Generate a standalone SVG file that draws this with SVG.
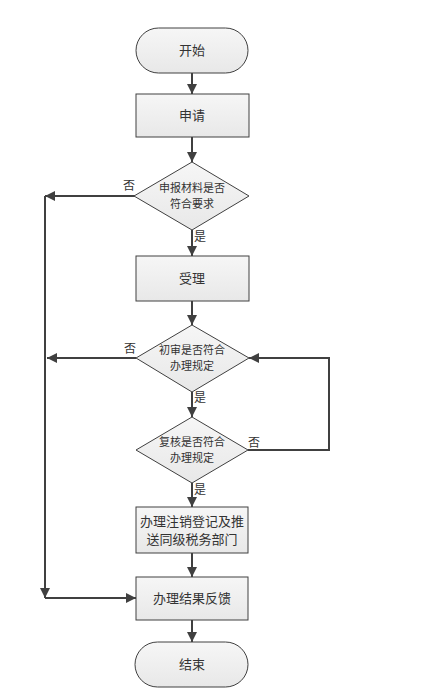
<svg xmlns="http://www.w3.org/2000/svg" width="424" height="697" viewBox="0 0 424 697">
<style>
.shape{fill:url(#g);stroke:#404040;stroke-width:1}
.t{font-family:"Noto Sans CJK SC","Liberation Sans",sans-serif;font-size:13px;fill:#333;text-anchor:middle}
.s{font-family:"Noto Sans CJK SC","Liberation Sans",sans-serif;font-size:11px;fill:#333;text-anchor:middle}
.lab{font-family:"Noto Sans CJK SC","Liberation Sans",sans-serif;font-size:12px;fill:#333}
.c{fill:none;stroke:#404040;stroke-width:2}
</style>
<defs>
<linearGradient id="g" x1="0" y1="0" x2="0" y2="1">
<stop offset="0" stop-color="#f6f6f6"/>
<stop offset="1" stop-color="#e8e8e8"/>
</linearGradient>
<marker id="a" viewBox="0 0 10 10" refX="10" refY="5" markerWidth="5" markerHeight="5" orient="auto" markerUnits="strokeWidth">
<path d="M0,0 L10,5 L0,10 z" fill="#404040"/>
</marker>
</defs>
<rect width="424" height="697" fill="#fff"/>
<g id="connectors">
<line class="c" x1="192" y1="73" x2="192" y2="94" marker-end="url(#a)"/>
<line class="c" x1="192" y1="137" x2="192" y2="162" marker-end="url(#a)"/>
<line class="c" x1="192" y1="230" x2="192" y2="256" marker-end="url(#a)"/>
<line class="c" x1="192" y1="301" x2="192" y2="325" marker-end="url(#a)"/>
<line class="c" x1="192" y1="392" x2="192" y2="417" marker-end="url(#a)"/>
<line class="c" x1="192" y1="483" x2="192" y2="507" marker-end="url(#a)"/>
<line class="c" x1="192" y1="553" x2="192" y2="577" marker-end="url(#a)"/>
<line class="c" x1="192" y1="620" x2="192" y2="642" marker-end="url(#a)"/>
<line class="c" x1="135" y1="196" x2="45" y2="196" marker-end="url(#a)"/>
<line class="c" x1="45" y1="196" x2="45" y2="598" marker-end="url(#a)"/>
<line class="c" x1="45" y1="598" x2="136" y2="598" marker-end="url(#a)"/>
<line class="c" x1="136" y1="358" x2="47" y2="358" marker-end="url(#a)"/>
<path class="c" d="M248,450 H329 V358 H249" marker-end="url(#a)"/>
<text class="lab" x="123" y="190">否</text>
<text class="lab" x="194" y="241">是</text>
<text class="lab" x="124" y="353">否</text>
<text class="lab" x="194" y="402">是</text>
<text class="lab" x="248" y="447">否</text>
<text class="lab" x="194" y="494">是</text>
</g>
<g id="start">
<rect class="shape" x="136" y="28" width="112" height="45" rx="22.5"/>
<text class="t" x="192" y="55">开始</text>
</g>
<g id="apply">
<rect class="shape" x="136" y="94" width="113" height="43"/>
<text class="t" x="192" y="120">申请</text>
</g>
<g id="check1">
<polygon class="shape" points="192,162 249,196 192,230 134,196"/>
<text class="s" x="192" y="192">申报材料是否</text>
<text class="s" x="192" y="208">符合要求</text>
</g>
<g id="accept">
<rect class="shape" x="136" y="256" width="113" height="45"/>
<text class="t" x="192" y="283">受理</text>
</g>
<g id="check2">
<polygon class="shape" points="192,325 249,358 192,392 136,358"/>
<text class="s" x="192" y="354">初审是否符合</text>
<text class="s" x="192" y="370">办理规定</text>
</g>
<g id="check3">
<polygon class="shape" points="192,417 248,450 192,483 136,450"/>
<text class="s" x="192" y="446">复核是否符合</text>
<text class="s" x="192" y="462">办理规定</text>
</g>
<g id="cancel">
<rect class="shape" x="136" y="507" width="112" height="46"/>
<text class="t" x="192" y="526">办理注销登记及推</text>
<text class="t" x="192" y="544">送同级税务部门</text>
</g>
<g id="feedback">
<rect class="shape" x="136" y="577" width="112" height="43"/>
<text class="t" x="192" y="603">办理结果反馈</text>
</g>
<g id="end">
<rect class="shape" x="135" y="642" width="113" height="45" rx="22.5"/>
<text class="t" x="192" y="669">结束</text>
</g>
</svg>
